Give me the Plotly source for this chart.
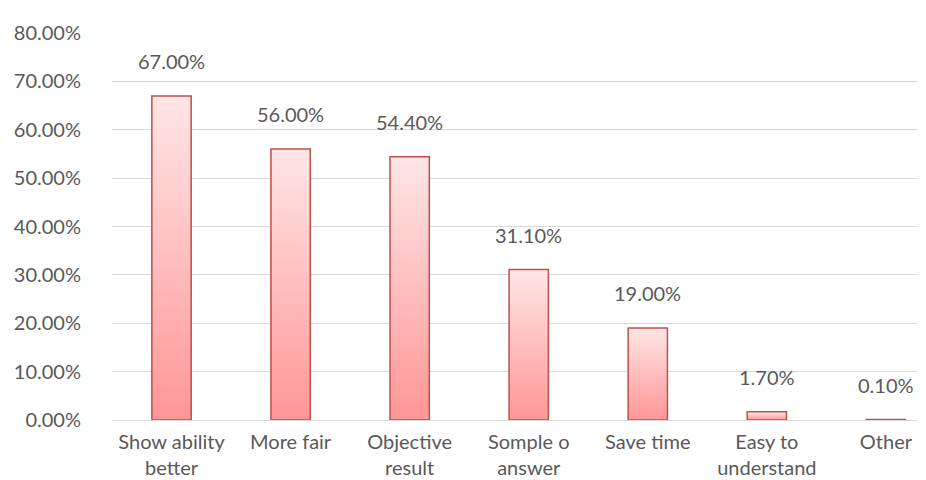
import plotly.graph_objects as go

categories = ["Show ability<br>better", "More fair", "Objective<br>result", "Somple o<br>answer",
              "Save time", "Easy to<br>understand", "Other"]
values = [67.0, 56.0, 54.4, 31.1, 19.0, 1.7, 0.1]
y_ticks = [0, 10, 20, 30, 40, 50, 60, 70, 80]

FONT = "Lato"
TXT = "#595959"
N = 40
bottom = (255, 150, 150)
top = (255, 230, 230)

fig = go.Figure()
for k in range(N):
    t = (k + 0.5) / N
    c = tuple(round(bottom[i] + (top[i] - bottom[i]) * t) for i in range(3))
    fig.add_trace(go.Bar(
        x=categories,
        y=[v * (N - k) / N for v in values],
        base=[v * k / N for v in values],
        width=0.33,
        marker=dict(color=f"rgb{c}", line=dict(width=0)),
        hoverinfo="skip", showlegend=False,
    ))

fig.add_trace(go.Bar(
    x=categories, y=values, width=0.33,
    marker=dict(color="rgba(0,0,0,0)", line=dict(color="#C0504D", width=1.5)),
    showlegend=False,
))

for c, v in zip(categories, values):
    fig.add_annotation(x=c, y=v, text=f"{v:.2f}%", showarrow=False,
                       yanchor="bottom", yshift=21,
                       font=dict(family=FONT, size=20, color=TXT))

fig.update_layout(
    width=926, height=480,
    margin=dict(l=104, r=0, t=25, b=68),
    plot_bgcolor="white", paper_bgcolor="white",
    barmode="overlay",
    font=dict(family=FONT, size=20, color=TXT),
)
fig.update_xaxes(
    range=[-0.5, 6.404], showgrid=False, showline=True, linecolor="#D9D9D9", linewidth=1,
    ticks="", ticklabelstandoff=4, tickfont=dict(family=FONT, size=20, color=TXT),
    categoryorder="array", categoryarray=categories,
)
fig.update_yaxes(
    range=[0, 80], tickvals=y_ticks, ticktext=[f"{t:.2f}%" for t in y_ticks],
    showgrid=True, gridcolor="#D9D9D9", gridwidth=1, zeroline=False,
    ticks="", ticklabelstandoff=30, tickfont=dict(family=FONT, size=20, color=TXT),
)

fig.write_html("out.html")
